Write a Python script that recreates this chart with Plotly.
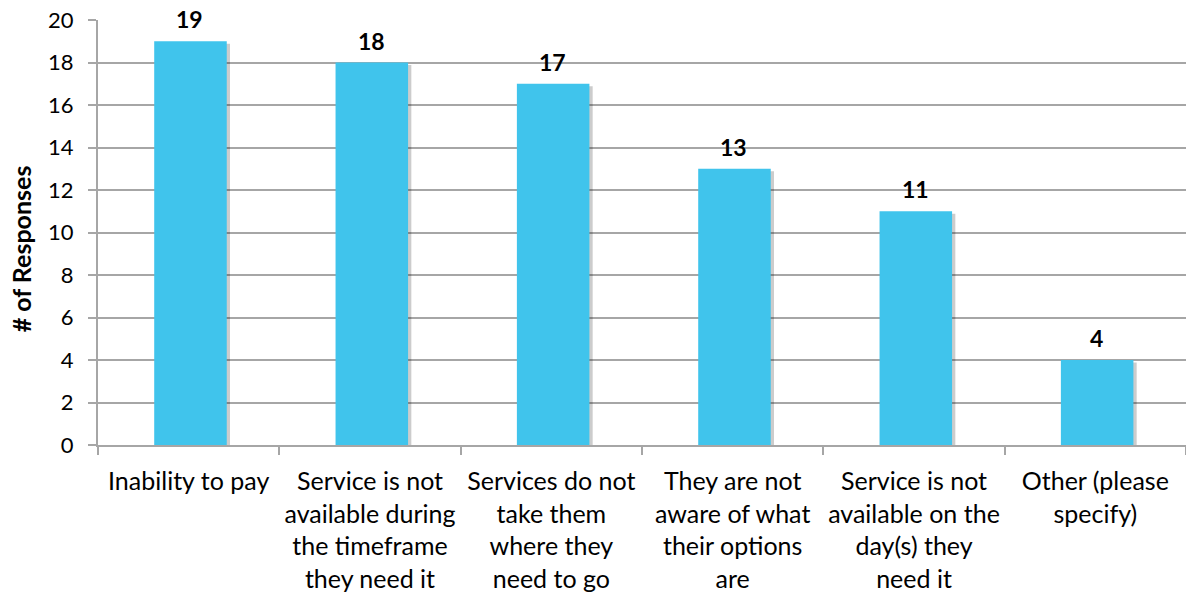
import plotly.graph_objects as go

categories = [
    "Inability to pay",
    "Service is not<br>available during<br>the timeframe<br>they need it",
    "Services do not<br>take them<br>where they<br>need to go",
    "They are not<br>aware of what<br>their options<br>are",
    "Service is not<br>available on the<br>day(s) they<br>need it",
    "Other (please<br>specify)",
]
values = [19, 18, 17, 13, 11, 4]
y_ticks = [0, 2, 4, 6, 8, 10, 12, 14, 16, 18, 20]
y_title = "# of Responses"

FONT = "Lato, Open Sans, sans-serif"
GRID = "#A6A6A6"

fig = go.Figure()
# soft shadow behind bars
fig.add_trace(go.Bar(
    x=categories, y=[v + 0.1 for v in values], base=[-0.22] * len(values),
    width=0.4, offset=-0.172,
    marker=dict(color="rgba(0,0,0,0.2)", line=dict(width=0)),
    hoverinfo="skip", showlegend=False, cliponaxis=False,
))
fig.add_trace(go.Bar(
    x=categories, y=values, width=0.4, offset=-0.19,
    marker=dict(color="#40C4EC", line=dict(width=0)),
    cliponaxis=False, showlegend=False,
))
for c, v in zip(categories, values):
    fig.add_annotation(
        x=c, y=v, text=str(v), showarrow=False, yanchor="middle", yshift=22, xshift=1,
        font=dict(family=FONT, size=23, color="#000000", weight="bold"),
    )
fig.add_annotation(
    text=y_title, xref="paper", yref="paper", x=-0.0705, y=0.461,
    xanchor="center", yanchor="middle", textangle=-90, showarrow=False,
    font=dict(family=FONT, size=25, color="#000000", weight="bold"),
)

fig.update_layout(
    width=1186, height=595,
    margin=dict(l=98, r=0, t=20, b=150, autoexpand=False),
    paper_bgcolor="white", plot_bgcolor="white",
    barmode="overlay",
    font=dict(family=FONT, color="#000000"),
    xaxis=dict(
        automargin=False, tickangle=0,
        tickfont=dict(family=FONT, size=25, color="#000000"),
        showline=True, linecolor=GRID, linewidth=2,
        ticks="outside", tickson="boundaries", ticklen=8, tickcolor=GRID, tickwidth=2,
        ticklabelstandoff=13,
        showgrid=False,
    ),
    yaxis=dict(
        automargin=False,
        range=[0, 20], tickvals=y_ticks,
        tickfont=dict(family=FONT, size=22, color="#000000"),
        showline=True, linecolor=GRID, linewidth=2,
        ticks="outside", ticklen=8, tickcolor=GRID, tickwidth=2,
        ticklabelstandoff=10,
        showgrid=True, gridcolor=GRID, gridwidth=2,
        zeroline=False,
    ),
)

fig.write_html("out.html", config={"displayModeBar": False},
               post_script="document.body.style.margin='0px';")
